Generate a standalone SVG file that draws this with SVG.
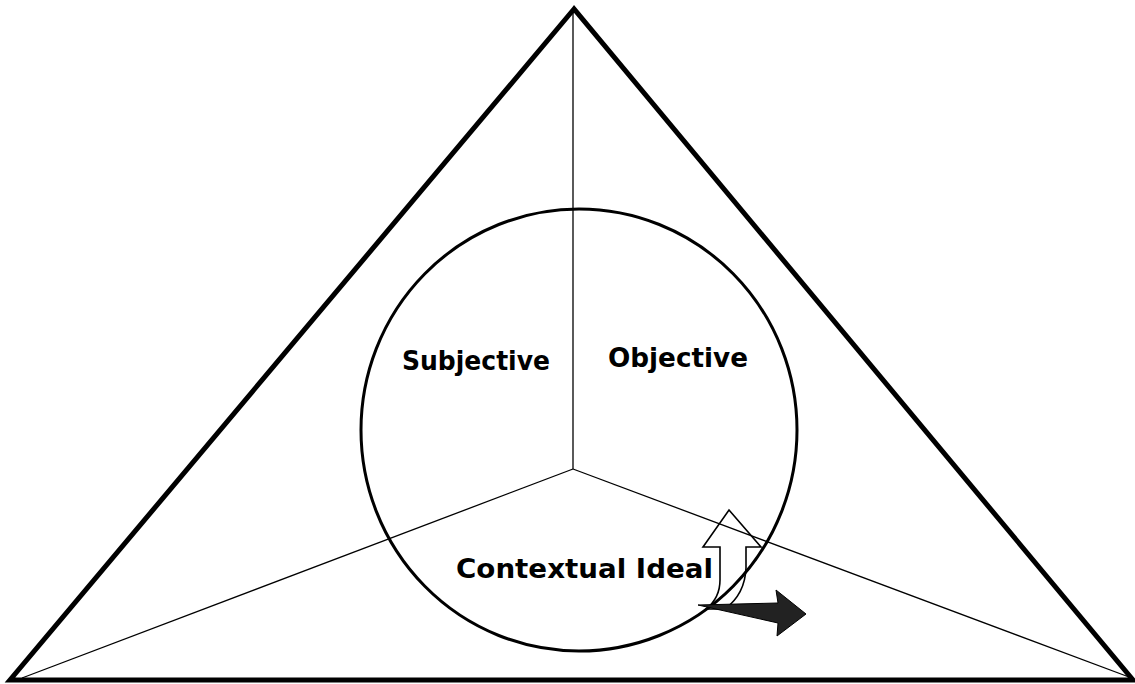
<svg xmlns="http://www.w3.org/2000/svg" width="1135" height="684" viewBox="0 0 1135 684">
<style>
.thick{fill:none;stroke:#000;stroke-width:5;stroke-linejoin:miter}
.thin{fill:none;stroke:#000;stroke-width:1.3}
.lbl{font-family:"DejaVu Sans","Liberation Sans",sans-serif;font-size:26px;font-weight:bold;fill:#000}
</style>
<rect width="1135" height="684" fill="#fff"/>
<g id="connectors">
<line class="thin" x1="573" y1="10" x2="573" y2="469"/>
<line class="thin" x1="573" y1="469" x2="22" y2="678"/>
<line class="thin" x1="573" y1="469" x2="1129" y2="677"/>
</g>
<g id="triangle">
<polygon class="thick" points="574,9 10,680 1133,680"/>
</g>
<g id="circle">
<ellipse cx="579" cy="430" rx="218" ry="221" fill="none" stroke="#000" stroke-width="3"/>
</g>
<g id="subjective"><text class="lbl" x="402" y="370" textLength="148" lengthAdjust="spacingAndGlyphs">Subjective</text></g>
<g id="objective"><text class="lbl" x="608" y="367" textLength="140" lengthAdjust="spacingAndGlyphs">Objective</text></g>
<g id="contextual"><text class="lbl" x="456" y="578" textLength="257" lengthAdjust="spacingAndGlyphs">Contextual Ideal</text></g>
<g id="arrows">
<path d="M729,510 L761,547 L746,547 L746,568 Q745,594 725,609 L706,609 Q720,598 720,580 L720,547 L703,547 Z" fill="none" stroke="#000" stroke-width="1.6" stroke-linejoin="miter"/>
<path d="M698,605 L778,603 L776,590 L806,614 L777,636 L778,623 Z" fill="#222" stroke="#000" stroke-width="1"/>
</g>
</svg>
